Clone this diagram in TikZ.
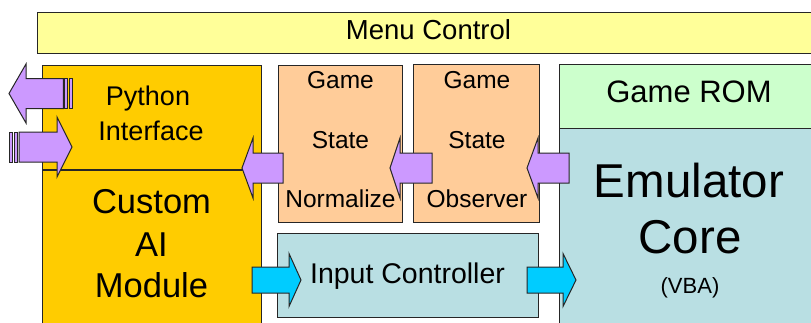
\documentclass[tikz,border=0pt]{standalone}
\usepackage{fontspec}
\setmainfont{Liberation Sans}
\begin{document}
\begin{tikzpicture}[x=1pt,y=-1pt,
  box/.style={draw=black!85,line width=1.1pt},
  lbl/.style={anchor=base,inner sep=0pt,text=black},
  purplearr/.style={fill=arrpurple,draw=black!85,line width=1pt,line join=miter},
  cyanarr/.style={fill=arrcyan,draw=black!85,line width=1pt,line join=miter}]
\definecolor{menuyellow}{HTML}{FFFF99}
\definecolor{aigold}{HTML}{FFCC00}
\definecolor{peach}{HTML}{FFCC99}
\definecolor{lightteal}{HTML}{B9DFE3}
\definecolor{romgreen}{HTML}{CCFFCC}
\definecolor{arrpurple}{HTML}{CC99FF}
\definecolor{arrcyan}{HTML}{00CCFF}
% block arrow: style, tail x, head base x, tip x, centre y, shaft half, head half
\newcommand\blockarr[7]{%
  \draw[#1] ({#2},{#5-#6}) -- ({#3},{#5-#6}) -- ({#3},{#5-#7}) -- ({#4},{#5})
    -- ({#3},{#5+#7}) -- ({#3},{#5+#6}) -- ({#2},{#5+#6}) -- cycle;}
% stripe of a striped arrow tail: style, x1, x2, centre y, half height
\newcommand\tailstripe[5]{%
  \draw[#1] ({#2},{#4-#5}) rectangle ({#3},{#4+#5});}

\useasboundingbox (0,0) rectangle (811,322);
\clip (0,0) rectangle (811,322);
\fill[white] (0,0) rectangle (811,322);

% boxes
\node[box,fill=menuyellow,minimum width=790pt,minimum height=41pt,anchor=north west] (menu) at (37,12) {};
\node[box,fill=aigold,minimum width=219pt,minimum height=280pt,anchor=north west] (ai) at (42,65) {};
\draw[black!85,line width=1.1pt] (42,170) coordinate (divL) -- (261,170) coordinate (divR);
\node[box,fill=peach,minimum width=124pt,minimum height=157pt,anchor=north west] (norm) at (278,65) {};
\node[box,fill=peach,minimum width=126pt,minimum height=158pt,anchor=north west] (obs) at (413,64) {};
\node[box,fill=lightteal,minimum width=261pt,minimum height=84pt,anchor=north west] (input) at (277,233) {};
\node[box,fill=romgreen,minimum width=280pt,minimum height=64pt,anchor=north west] (rom) at (559,64) {};
\node[box,fill=lightteal,minimum width=280pt,minimum height=220pt,anchor=north west] (emu) at (559,128) {};

% labels
\node[lbl,font=\fontsize{27.5}{31}\selectfont] (menuT) at (428.5,39) {Menu Control};
\node[lbl,font=\fontsize{27}{31}\selectfont] (pyT1) at (148,105) {Python};
\node[lbl,font=\fontsize{27}{31}\selectfont] (pyT2) at (151,140) {Interface};
\node[lbl,font=\fontsize{34.5}{40}\selectfont] (aiT1) at (151.5,213) {Custom};
\node[lbl,font=\fontsize{34.5}{40}\selectfont] (aiT2) at (151.5,256) {AI};
\node[lbl,font=\fontsize{34.5}{40}\selectfont] (aiT3) at (151.5,297) {Module};
\node[lbl,font=\fontsize{24.5}{28}\selectfont] (nT1) at (340.5,88) {Game};
\node[lbl,font=\fontsize{24.5}{28}\selectfont] (nT2) at (340.5,148) {State};
\node[lbl,font=\fontsize{24.5}{28}\selectfont] (nT3) at (340.5,207) {Normalize};
\node[lbl,font=\fontsize{24.5}{28}\selectfont] (oT1) at (477,88) {Game};
\node[lbl,font=\fontsize{24.5}{28}\selectfont] (oT2) at (477,148) {State};
\node[lbl,font=\fontsize{24.5}{28}\selectfont] (oT3) at (477,207) {Observer};
\node[lbl,font=\fontsize{28.5}{32}\selectfont] (inT) at (407.5,283) {Input Controller};
\node[lbl,font=\fontsize{31}{35}\selectfont] (romT) at (689,102) {Game ROM};
\node[lbl,font=\fontsize{47.5}{52}\selectfont] (emT1) at (689,197) {Emulator};
\node[lbl,font=\fontsize{47.5}{52}\selectfont] (emT2) at (690,253) {Core};
\node[lbl,font=\fontsize{22}{26}\selectfont] (emT3) at (690,293) {(VBA)};

% data flow between the middle boxes
\blockarr{purplearr}{569}{538}{527}{168}{15}{30}
\blockarr{purplearr}{432}{400}{390}{168}{15}{30}
\blockarr{purplearr}{283}{253}{242}{168}{15}{30}

% striped arrows of the Python interface
\blockarr{purplearr}{63.3}{26}{9}{93.5}{15}{29.5}
\tailstripe{purplearr}{64.6}{67.7}{93.5}{15}
\tailstripe{purplearr}{69.3}{72}{93.5}{15}
\blockarr{purplearr}{19}{57}{72}{147}{15}{30}
\tailstripe{purplearr}{9.3}{12.7}{147}{15}
\tailstripe{purplearr}{14.2}{17.3}{147}{15}

% controller arrows
\blockarr{cyanarr}{252}{289}{301}{280}{13}{26.5}
\blockarr{cyanarr}{527}{563}{576}{280}{13}{26.5}
\end{tikzpicture}
\end{document}
